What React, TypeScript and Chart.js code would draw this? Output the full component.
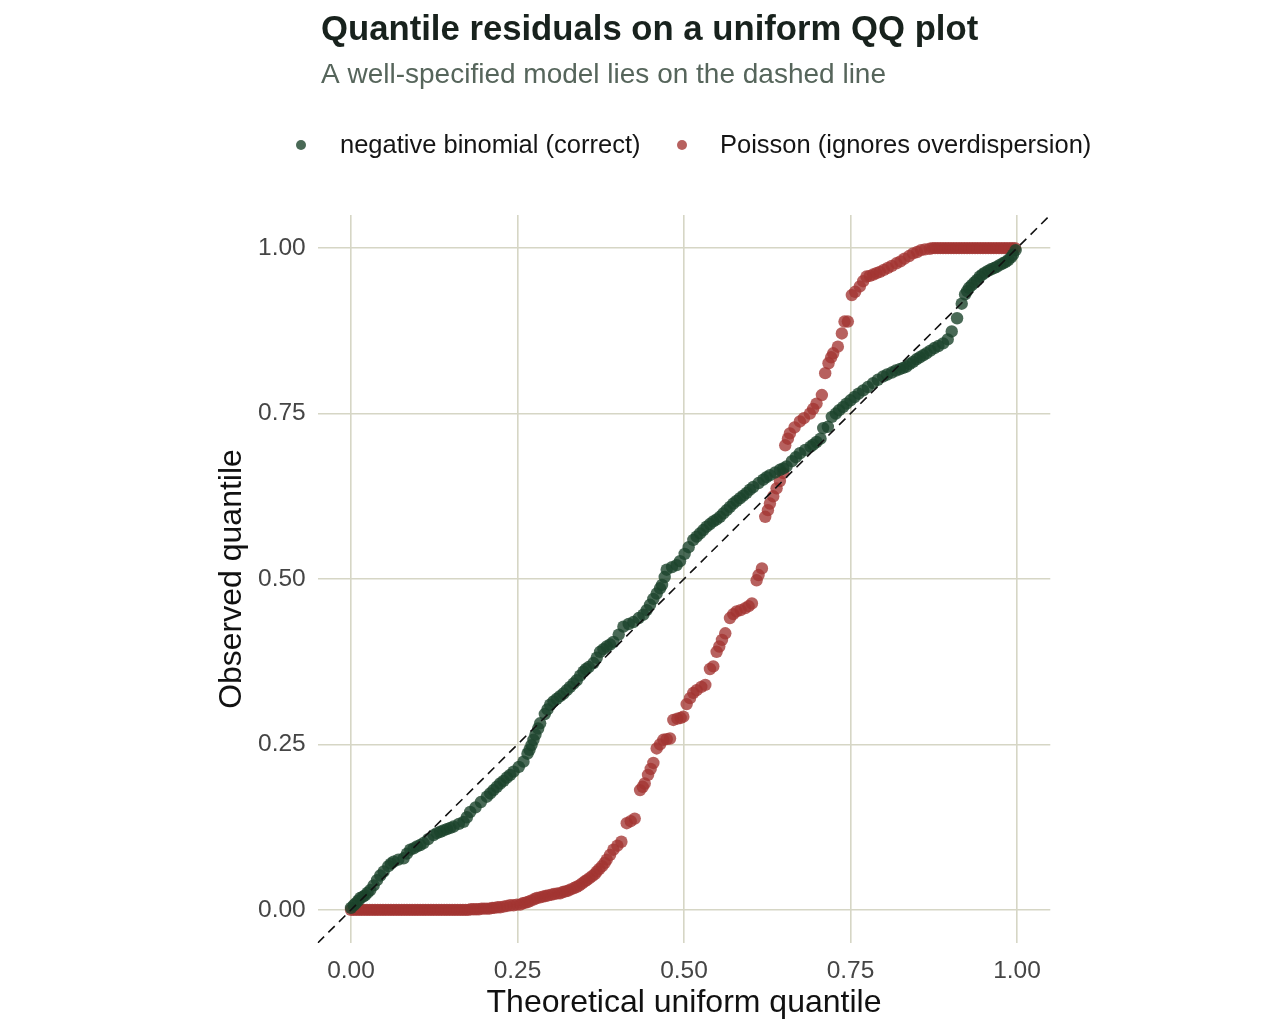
import React, { useEffect, useRef } from "react";
import { Chart, registerables } from "chart.js";

Chart.register(...registerables);

const TITLE = "Quantile residuals on a uniform QQ plot";
const SUBTITLE = "A well-specified model lies on the dashed line";
const X_TITLE = "Theoretical uniform quantile";
const Y_TITLE = "Observed quantile";
const SERIES_NAMES = ["negative binomial (correct)", "Poisson (ignores overdispersion)"];
const TICKS = [0, 0.25, 0.5, 0.75, 1];
const AXIS_RANGE = [-0.05, 1.05];
const REF_LINE = [-0.05, 1.05];

const NB_X = [
  0.000, 0.004, 0.007, 0.011, 0.014, 0.018, 0.021, 0.025, 0.029, 0.034, 0.039, 0.044, 0.049, 0.056, 0.060,
  0.064, 0.071, 0.079, 0.084, 0.089, 0.094, 0.099, 0.104, 0.109, 0.116, 0.124, 0.129, 0.134, 0.139, 0.144,
  0.149, 0.154, 0.162, 0.169, 0.174, 0.179, 0.187, 0.195, 0.204, 0.209, 0.214, 0.219, 0.224, 0.229, 0.234,
  0.239, 0.244, 0.252, 0.259, 0.265, 0.268, 0.271, 0.274, 0.277, 0.281, 0.284, 0.291, 0.295, 0.299, 0.304,
  0.309, 0.314, 0.319, 0.324, 0.329, 0.334, 0.339, 0.344, 0.349, 0.353, 0.357, 0.364, 0.369, 0.374, 0.379,
  0.384, 0.389, 0.394, 0.402, 0.409, 0.417, 0.424, 0.432, 0.439, 0.444, 0.449, 0.454, 0.459, 0.464, 0.467,
  0.471, 0.474, 0.482, 0.489, 0.494, 0.501, 0.507, 0.514, 0.519, 0.524, 0.529, 0.534, 0.539, 0.544, 0.549,
  0.554, 0.559, 0.564, 0.569, 0.574, 0.579, 0.584, 0.589, 0.594, 0.599, 0.604, 0.612, 0.619, 0.624, 0.629,
  0.637, 0.644, 0.649, 0.654, 0.662, 0.668, 0.674, 0.682, 0.690, 0.694, 0.699, 0.705, 0.709, 0.716, 0.722,
  0.728, 0.733, 0.739, 0.744, 0.750, 0.756, 0.762, 0.769, 0.776, 0.784, 0.791, 0.799, 0.805, 0.812, 0.818,
  0.824, 0.829, 0.834, 0.839, 0.844, 0.849, 0.854, 0.859, 0.864, 0.870, 0.876, 0.882, 0.889, 0.896, 0.902,
  0.910, 0.917, 0.922, 0.925, 0.928, 0.932, 0.936, 0.940, 0.944, 0.948, 0.952, 0.957, 0.961, 0.966, 0.970,
  0.975, 0.979, 0.983, 0.987, 0.991, 0.994, 0.998,
];
const NB_Y = [
  0.003, 0.007, 0.010, 0.014, 0.018, 0.020, 0.022, 0.026, 0.030, 0.037, 0.045, 0.052, 0.058, 0.066, 0.070,
  0.073, 0.076, 0.078, 0.085, 0.091, 0.093, 0.096, 0.098, 0.101, 0.107, 0.113, 0.116, 0.118, 0.120, 0.122,
  0.124, 0.126, 0.130, 0.133, 0.140, 0.148, 0.155, 0.163, 0.171, 0.176, 0.181, 0.186, 0.191, 0.195, 0.200,
  0.204, 0.209, 0.216, 0.224, 0.236, 0.242, 0.249, 0.257, 0.265, 0.274, 0.282, 0.296, 0.303, 0.310, 0.315,
  0.319, 0.323, 0.327, 0.332, 0.337, 0.342, 0.347, 0.354, 0.360, 0.364, 0.367, 0.373, 0.381, 0.390, 0.394,
  0.398, 0.401, 0.405, 0.416, 0.428, 0.432, 0.435, 0.441, 0.446, 0.453, 0.461, 0.470, 0.478, 0.486, 0.491,
  0.503, 0.514, 0.518, 0.521, 0.527, 0.538, 0.548, 0.559, 0.564, 0.569, 0.574, 0.579, 0.583, 0.587, 0.590,
  0.594, 0.599, 0.604, 0.609, 0.614, 0.618, 0.622, 0.626, 0.630, 0.635, 0.639, 0.645, 0.650, 0.654, 0.657,
  0.661, 0.665, 0.667, 0.670, 0.678, 0.684, 0.690, 0.695, 0.700, 0.703, 0.707, 0.712, 0.728, 0.730, 0.745,
  0.750, 0.755, 0.760, 0.765, 0.770, 0.775, 0.780, 0.785, 0.790, 0.796, 0.801, 0.806, 0.809, 0.812, 0.815,
  0.817, 0.819, 0.821, 0.825, 0.828, 0.832, 0.835, 0.838, 0.841, 0.845, 0.849, 0.852, 0.856, 0.862, 0.874,
  0.894, 0.916, 0.930, 0.935, 0.940, 0.944, 0.948, 0.952, 0.957, 0.960, 0.963, 0.966, 0.968, 0.970, 0.972,
  0.975, 0.977, 0.979, 0.982, 0.986, 0.990, 0.997,
];

const POIS_X = [
  0.000, 0.004, 0.008, 0.012, 0.016, 0.020, 0.024, 0.028, 0.032, 0.036, 0.040, 0.044, 0.048, 0.052, 0.056,
  0.060, 0.064, 0.068, 0.072, 0.076, 0.080, 0.084, 0.088, 0.092, 0.096, 0.100, 0.104, 0.108, 0.112, 0.116,
  0.120, 0.124, 0.128, 0.132, 0.136, 0.140, 0.144, 0.148, 0.152, 0.156, 0.160, 0.164, 0.168, 0.172, 0.176,
  0.180, 0.184, 0.188, 0.192, 0.196, 0.200, 0.204, 0.208, 0.212, 0.215, 0.220, 0.224, 0.229,
  0.234, 0.239, 0.244, 0.249, 0.254, 0.258, 0.262, 0.266, 0.270, 0.275, 0.279, 0.284, 0.288, 0.292, 0.296,
  0.301, 0.305, 0.310, 0.314, 0.318, 0.322, 0.326, 0.330, 0.335, 0.339, 0.343, 0.347, 0.351, 0.354, 0.358,
  0.362, 0.366, 0.369, 0.373, 0.377, 0.381, 0.384, 0.389, 0.394, 0.400, 0.406, 0.414, 0.420, 0.426, 0.434,
  0.438, 0.441, 0.446, 0.450, 0.454, 0.459, 0.464, 0.469, 0.474, 0.479, 0.484, 0.490, 0.495, 0.499, 0.504,
  0.509, 0.514, 0.519, 0.526, 0.532, 0.539, 0.544, 0.549, 0.553, 0.557, 0.562, 0.569, 0.574, 0.579, 0.585,
  0.592, 0.597, 0.602, 0.609, 0.612, 0.617, 0.622, 0.626, 0.629, 0.634, 0.639, 0.644, 0.649, 0.652, 0.656,
  0.659, 0.666, 0.674, 0.680, 0.689, 0.694, 0.699, 0.707, 0.712, 0.717, 0.721, 0.724, 0.731, 0.737, 0.741,
  0.746, 0.752, 0.757, 0.764, 0.769, 0.774, 0.779, 0.784, 0.789, 0.794, 0.800, 0.806, 0.812, 0.819, 0.825,
  0.831, 0.838, 0.844, 0.850, 0.856, 0.862, 0.869, 0.873, 0.877, 0.881, 0.885, 0.889, 0.893, 0.897, 0.901,
  0.905, 0.909, 0.913, 0.917, 0.921, 0.925, 0.929, 0.933, 0.937, 0.941, 0.945, 0.949, 0.953, 0.957, 0.961,
  0.965, 0.969, 0.973, 0.977, 0.981, 0.985, 0.989, 0.993, 0.997,
];
const POIS_Y = [
  0.000, 0.000, 0.000, 0.000, 0.000, 0.000, 0.000, 0.000, 0.000, 0.000, 0.000, 0.000, 0.000, 0.000, 0.000,
  0.000, 0.000, 0.000, 0.000, 0.000, 0.000, 0.000, 0.000, 0.000, 0.000, 0.000, 0.000, 0.000, 0.000, 0.000,
  0.000, 0.000, 0.000, 0.000, 0.000, 0.000, 0.000, 0.000, 0.000, 0.000, 0.000, 0.000, 0.000, 0.000, 0.000,
  0.001, 0.001, 0.001, 0.001, 0.002, 0.002, 0.002, 0.002, 0.003, 0.003, 0.004, 0.004, 0.005,
  0.006, 0.007, 0.007, 0.008, 0.008, 0.010, 0.011, 0.012, 0.014, 0.016, 0.018, 0.019, 0.020, 0.021, 0.022,
  0.023, 0.024, 0.025, 0.025, 0.027, 0.028, 0.029, 0.031, 0.033, 0.035, 0.037, 0.040, 0.043, 0.045, 0.048,
  0.051, 0.054, 0.058, 0.062, 0.066, 0.071, 0.076, 0.083, 0.091, 0.097, 0.103, 0.131, 0.134, 0.138, 0.181,
  0.186, 0.191, 0.204, 0.213, 0.222, 0.244, 0.250, 0.257, 0.258, 0.259, 0.287, 0.289, 0.290, 0.292, 0.311,
  0.320, 0.328, 0.332, 0.337, 0.340, 0.364, 0.368, 0.390, 0.398, 0.408, 0.418, 0.441, 0.447, 0.451, 0.453,
  0.456, 0.459, 0.463, 0.498, 0.506, 0.516, 0.594, 0.604, 0.614, 0.625, 0.637, 0.648, 0.660, 0.702, 0.712,
  0.720, 0.729, 0.738, 0.743, 0.750, 0.757, 0.765, 0.778, 0.811, 0.826, 0.835, 0.841, 0.851, 0.871, 0.889,
  0.889, 0.929, 0.934, 0.942, 0.950, 0.957, 0.958, 0.960, 0.962, 0.964, 0.967, 0.970, 0.973, 0.977, 0.980,
  0.984, 0.988, 0.992, 0.994, 0.997, 0.998, 0.999, 1.000, 1.000, 1.000, 1.000, 1.000, 1.000, 1.000, 1.000,
  1.000, 1.000, 1.000, 1.000, 1.000, 1.000, 1.000, 1.000, 1.000, 1.000, 1.000, 1.000, 1.000, 1.000, 1.000,
  1.000, 1.000, 1.000, 1.000, 1.000, 1.000, 1.000, 1.000, 1.000,
];

const GREEN = "rgba(28, 68, 44, 0.8)";
const RED = "rgba(163, 52, 50, 0.78)";
const FONT = "'Liberation Sans', Arial, Helvetica, sans-serif";

const toPoints = (xs: number[], ys: number[]) => xs.map((x, i) => ({ x, y: ys[i] }));

const headerPlugin = {
  id: "header",
  afterDraw(chart: any) {
    const ctx = chart.ctx as CanvasRenderingContext2D;
    ctx.save();
    ctx.textAlign = "left";
    ctx.textBaseline = "alphabetic";
    ctx.fillStyle = "#18221d";
    ctx.font = `bold 34.7px ${FONT}`;
    ctx.fillText(TITLE, 321, 40);
    ctx.fillStyle = "#56655b";
    ctx.font = `28px ${FONT}`;
    ctx.fillText(SUBTITLE, 321, 83);

    const colors = [GREEN, RED];
    const dotX = [301, 682];
    const textX = [340, 720];
    ctx.font = `25.5px ${FONT}`;
    ctx.textBaseline = "middle";
    for (let i = 0; i < 2; i++) {
      ctx.beginPath();
      ctx.fillStyle = colors[i];
      ctx.arc(dotX[i], 145, 5, 0, Math.PI * 2);
      ctx.fill();
      ctx.fillStyle = "#151515";
      ctx.fillText(SERIES_NAMES[i], textX[i], 146);
    }
    ctx.restore();
  },
};

export default function App() {
  const canvasRef = useRef<HTMLCanvasElement | null>(null);

  useEffect(() => {
    if (!canvasRef.current) return;
    const chart = new Chart(canvasRef.current, {
      type: "scatter",
      data: {
        datasets: [
          {
            type: "line",
            label: "y = x",
            data: [
              { x: REF_LINE[0], y: REF_LINE[0] },
              { x: REF_LINE[1], y: REF_LINE[1] },
            ],
            borderColor: "#111111",
            borderWidth: 1.6,
            borderDash: [9, 6],
            pointRadius: 0,
            fill: false,
          } as any,
          {
            label: SERIES_NAMES[0],
            data: toPoints(NB_X, NB_Y),
            backgroundColor: GREEN,
            borderWidth: 0,
            pointRadius: 6.2,
          },
          {
            label: SERIES_NAMES[1],
            data: toPoints(POIS_X, POIS_Y),
            backgroundColor: RED,
            borderWidth: 0,
            pointRadius: 6.2,
          },
        ],
      },
      options: {
        animation: false,
        responsive: false,
        layout: { padding: { left: 213, right: 216.7, top: 215, bottom: 14 } },
        plugins: {
          legend: { display: false },
          title: { display: false },
          tooltip: { enabled: false },
        },
        scales: {
          x: {
            type: "linear",
            min: AXIS_RANGE[0],
            max: AXIS_RANGE[1],
            afterBuildTicks: (s: any) => {
              s.ticks = TICKS.map((v) => ({ value: v }));
            },
            afterFit: (s: any) => {
              s.height = 79;
            },
            border: { display: false },
            grid: { color: "#d6d6c5", lineWidth: 1.6, drawTicks: false },
            ticks: {
              padding: 14,
              color: "#454545",
              font: { family: FONT, size: 24.5 },
              callback: (v: any) => Number(v).toFixed(2),
            },
            title: {
              display: true,
              text: X_TITLE,
              color: "#111111",
              font: { family: FONT, size: 32 },
              padding: { top: 0, bottom: 0 },
            },
          },
          y: {
            type: "linear",
            min: AXIS_RANGE[0],
            max: AXIS_RANGE[1],
            afterBuildTicks: (s: any) => {
              s.ticks = TICKS.map((v) => ({ value: v }));
            },
            afterFit: (s: any) => {
              s.width = 104.7;
            },
            border: { display: false },
            grid: { color: "#d6d6c5", lineWidth: 1.6, drawTicks: false },
            ticks: {
              padding: 12,
              color: "#454545",
              font: { family: FONT, size: 24.5 },
              callback: (v: any) => Number(v).toFixed(2),
            },
            title: {
              display: true,
              text: Y_TITLE,
              color: "#111111",
              font: { family: FONT, size: 32 },
              padding: { top: 0, bottom: 0 },
            },
          },
        },
      },
      plugins: [headerPlugin],
    });
    return () => chart.destroy();
  }, []);

  return (
    <div style={{ position: "fixed", left: 0, top: 0, width: 1267, height: 1036, background: "#ffffff" }}>
      <canvas ref={canvasRef} width={1267} height={1036} style={{ width: 1267, height: 1036, display: "block" }} />
    </div>
  );
}
